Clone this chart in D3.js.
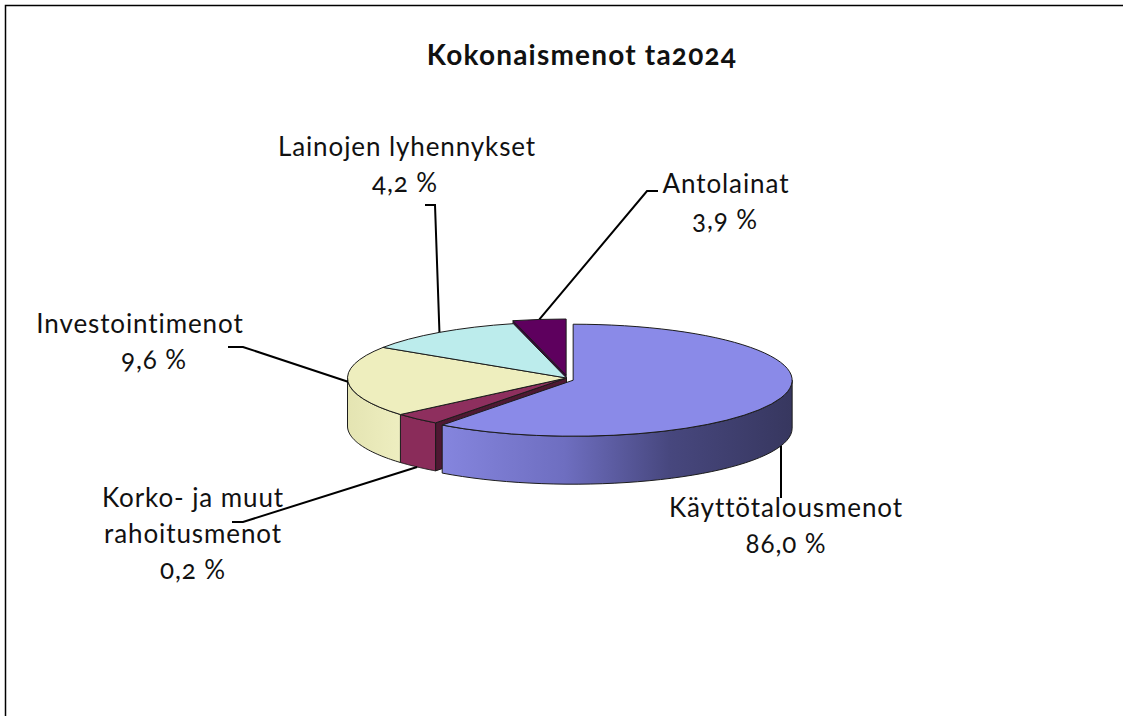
<!DOCTYPE html>
<html lang="fi">

<head>
    <meta charset="UTF-8" />
    <script src="https://d3js.org/d3.v7.min.js"></script>
    <title>Kokonaismenot</title>
    <style>
        body {
            margin: 0;
            background: #fff;
        }

        text {
            font-family: Lato, "Open Sans", sans-serif;
            font-variant-numeric: oldstyle-nums;
            fill: #111;
        }

        .title {
            font-weight: bold;
            font-size: 28px;
            letter-spacing: 1.2px;
        }

        .lbl {
            font-size: 26px;
            letter-spacing: 0.9px;
        }

        .edge {
            stroke: #1c1c1c;
            stroke-width: 1;
            stroke-linejoin: round;
        }

        .leader {
            fill: none;
            stroke: #000;
            stroke-width: 2;
        }
    </style>
</head>

<body>
    <svg id="chart" width="1123" height="716"></svg>
    <script>
        // data: slice order is clockwise from 12 o'clock
        const categories = ["Käyttötalousmenot", "Korko- ja muut rahoitusmenot", "Investointimenot", "Lainojen lyhennykset", "Antolainat"];
        // slice sizes as drawn in the picture (share of the full circle, %)
        const sliceShares = [60.2, 3.5, 20.5, 11.9, 3.9];
        // the percentages printed on the labels
        const percentLabels = ["86,0 %", "0,2 %", "9,6 %", "4,2 %", "3,9 %"];
        const labelLines = [["Käyttötalousmenot"], ["Korko- ja muut", "rahoitusmenot"], ["Investointimenot"], ["Lainojen lyhennykset"], ["Antolainat"]];

        const topColors = ["#8a8ae8", "#8e2f5e", "#eeeebe", "#bcecec", "#5e005e"];
        const wallColors = ["url(#gradMain)", "#8a2c5a", "url(#gradYellow)", "#a8d6d6", "#4a004a"];
        const cutColors = ["#3c3c70", "#4e1832", "#cfcf9a", "#90baba", "#3a003a"];
        const explode = [7, 0, 0, 0, 3];

        // label layout: text centre, first baseline, percent x, leader elbow points
        const labelLayout = [
            { x: 786, y: 517, px: 786, elbow: [] },
            { x: 193, y: 507, px: 193, elbow: [[243, 522], [232, 522]] },
            { x: 140, y: 333, px: 154, elbow: [[243, 347], [228, 347]] },
            { x: 407, y: 156, px: 405, elbow: [[435, 205], [425, 205]] },
            { x: 726, y: 193, px: 725, elbow: [[647, 191], [658, 191]] }
        ];

        const svg = d3.select("#chart");
        const W = 1123, H = 716;
        const cx = 566.5, cy = 378, rx = 219, ry = 56, depth = 48;
        const lineH = 36;

        const defs = svg.append("defs");
        const gMain = defs.append("linearGradient").attr("id", "gradMain");
        [["0", "#8585de"], ["0.35", "#6e6ec0"], ["0.65", "#47477e"], ["1", "#37375f"]]
            .forEach(s => gMain.append("stop").attr("offset", s[0]).attr("stop-color", s[1]));
        const gYel = defs.append("linearGradient").attr("id", "gradYellow");
        [["0", "#e4e4b2"], ["1", "#eeeec0"]]
            .forEach(s => gYel.append("stop").attr("offset", s[0]).attr("stop-color", s[1]));

        // frame (right and bottom edges fall outside the picture)
        svg.append("rect")
            .attr("x", 5.5).attr("y", 5.5)
            .attr("width", W + 20).attr("height", H + 20)
            .attr("fill", "#fff")
            .attr("stroke", "#000")
            .attr("stroke-width", 1.5);

        svg.append("text")
            .attr("class", "title")
            .attr("x", 582)
            .attr("y", 65)
            .attr("text-anchor", "middle")
            .text("Kokonaismenot ta2024");

        const pie = d3.pie().sort(null).value(d => d).startAngle(0).endAngle(2 * Math.PI);
        const arcs = pie(sliceShares).map((d, i) => {
            const mid = (d.startAngle + d.endAngle) / 2;
            d.i = i;
            d.mid = mid;
            d.dx = explode[i] * Math.sin(mid);
            d.dy = -explode[i] * Math.cos(mid);
            return d;
        });

        // point on the rim for angle a (clockwise from 12 o'clock)
        const rim = (d, a, z) => [cx + d.dx + rx * Math.sin(a), cy + d.dy - ry * Math.cos(a) + (z || 0)];
        const centre = (d, z) => [cx + d.dx, cy + d.dy + (z || 0)];
        const line = d3.line();
        const pie3d = svg.append("g");

        // cut faces that look towards the viewer, drawn far to near
        const faces = [];
        arcs.forEach(d => {
            if (Math.sin(d.startAngle) < -1e-6) faces.push({ d: d, a: d.startAngle });
            if (Math.sin(d.endAngle) > 1e-6) faces.push({ d: d, a: d.endAngle });
        });
        faces.sort((p, q) => rim(p.d, p.a)[1] - rim(q.d, q.a)[1]);
        faces.forEach(f => {
            pie3d.append("path")
                .attr("class", "edge")
                .attr("fill", cutColors[f.d.i])
                .attr("d", line([centre(f.d), rim(f.d, f.a), rim(f.d, f.a, depth), centre(f.d, depth)]) + "Z");
        });

        // outer walls on the front half
        arcs.forEach(d => {
            const a0 = Math.max(d.startAngle, Math.PI / 2);
            const a1 = Math.min(d.endAngle, 3 * Math.PI / 2);
            if (a1 <= a0) return;
            const steps = d3.range(0, 41).map(k => a0 + (a1 - a0) * k / 40);
            const pts = steps.map(a => rim(d, a)).concat(steps.slice().reverse().map(a => rim(d, a, depth)));
            pie3d.append("path")
                .attr("class", "edge")
                .attr("fill", wallColors[d.i])
                .attr("d", line(pts) + "Z");
        });

        // top faces: a circular d3.arc squashed into an ellipse
        const arcGen = d3.arc().innerRadius(0).outerRadius(rx);
        arcs.forEach(d => {
            pie3d.append("path")
                .attr("class", "edge")
                .attr("vector-effect", "non-scaling-stroke")
                .attr("fill", topColors[d.i])
                .attr("transform", `translate(${cx + d.dx},${cy + d.dy}) scale(1,${ry / rx})`)
                .attr("d", arcGen(d));
        });

        // leader lines and labels
        const labels = svg.append("g");
        arcs.forEach(d => {
            const lay = labelLayout[d.i];
            const front = Math.cos(d.mid) < -0.3;
            const anchor = rim(d, d.mid, front ? depth : 0);
            const pts = lay.elbow.length ? [anchor].concat(lay.elbow) : [anchor, [anchor[0], lay.y - 19]];
            labels.append("path").attr("class", "leader").attr("d", line(pts));

            const lines = labelLines[d.i];
            lines.forEach((t, k) => {
                labels.append("text")
                    .attr("class", "lbl")
                    .attr("x", lay.x)
                    .attr("y", lay.y + k * lineH)
                    .attr("text-anchor", "middle")
                    .text(t);
            });
            labels.append("text")
                .attr("class", "lbl")
                .attr("x", lay.px)
                .attr("y", lay.y + lines.length * lineH)
                .attr("text-anchor", "middle")
                .text(percentLabels[d.i]);
        });
    </script>
</body>

</html>
